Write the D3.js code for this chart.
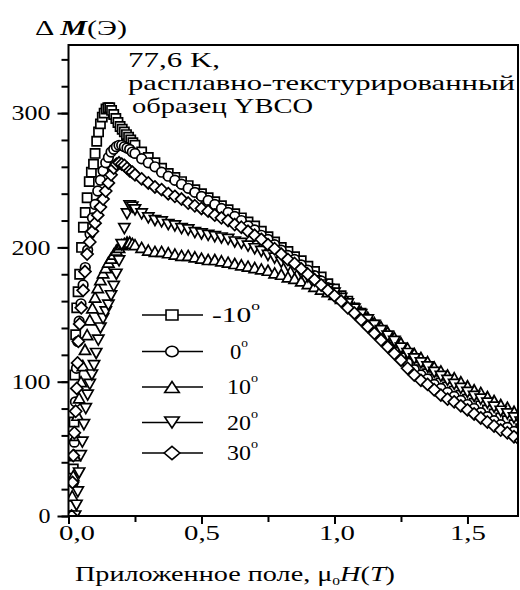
<!DOCTYPE html>
<html>
<head>
<meta charset="utf-8">
<script src="https://cdn.jsdelivr.net/npm/d3@7"></script>
<style>
  body { margin: 0; background: #fff; }
</style>
</head>
<body>
<div id="chart"></div>
<script>
const FONT = '"Liberation Serif"';

// series labels (angle, degrees)
const angles = ['-10', '0', '10', '20', '30'];

// rising branch, read per series: field (T) and dM (Oe)
const riseH_m10 = [0.015, 0.018, 0.021, 0.024, 0.027, 0.031, 0.036, 0.042, 0.049, 0.056, 0.063, 0.07, 0.078, 0.086, 0.094, 0.1, 0.106, 0.113, 0.12, 0.127, 0.134, 0.141, 0.148, 0.155, 0.162, 0.17, 0.178, 0.186, 0.194, 0.202, 0.21, 0.218, 0.226, 0.234, 0.242];
const riseM_m10 = [0, 35, 70, 105, 135, 155, 167, 180, 200, 215, 226, 237, 249, 256, 262, 270, 279, 286, 292, 297, 300, 303, 304, 304, 302, 299, 296, 293, 290, 288, 286, 284, 282, 280, 278];

const riseH_0 = [0.014, 0.018, 0.022, 0.026, 0.03, 0.035, 0.04, 0.047, 0.055, 0.063, 0.072, 0.081, 0.09, 0.1, 0.11, 0.12, 0.13, 0.14, 0.15, 0.16, 0.17, 0.18, 0.19, 0.2, 0.21, 0.22, 0.23, 0.24];
const riseM_0 = [0, 25, 55, 85, 110, 130, 145, 158, 172, 185, 198, 210, 222, 232, 242, 250, 257, 263, 267, 271, 273, 275, 276, 276, 275, 274, 273, 271];

const riseH_10 = [0.01, 0.014, 0.018, 0.023, 0.028, 0.034, 0.04, 0.047, 0.054, 0.062, 0.07, 0.08, 0.09, 0.1, 0.11, 0.12, 0.13, 0.14, 0.15, 0.16, 0.17, 0.18, 0.19, 0.2, 0.21, 0.22, 0.23, 0.24];
const riseM_10 = [0, 15, 30, 45, 60, 75, 88, 100, 112, 124, 135, 146, 155, 163, 170, 176, 181, 185, 189, 192, 195, 198, 200, 202, 203, 204, 204, 203];

const riseH_20 = [0.025, 0.03, 0.035, 0.04, 0.046, 0.052, 0.058, 0.065, 0.072, 0.08, 0.088, 0.096, 0.104, 0.112, 0.12, 0.13, 0.14, 0.15, 0.16, 0.17, 0.18, 0.19, 0.2, 0.21, 0.22, 0.23, 0.24];
const riseM_20 = [0, 8, 18, 32, 45, 55, 68, 80, 90, 98, 105, 112, 121, 131, 140, 147, 152, 157, 164, 171, 180, 190, 202, 214, 225, 231, 230];

const riseH_30 = [0.012, 0.015, 0.018, 0.022, 0.027, 0.031, 0.034, 0.037, 0.042, 0.048, 0.055, 0.062, 0.07, 0.08, 0.09, 0.1, 0.11, 0.12, 0.13, 0.14, 0.15, 0.16, 0.17, 0.18, 0.19, 0.2, 0.21, 0.22, 0.23, 0.24];
const riseM_30 = [0, 25, 45, 62, 78, 95, 114, 130, 143, 155, 168, 182, 195, 204, 212, 218, 224, 230, 236, 242, 248, 254, 259, 262, 263, 262, 261, 259, 257, 256];

// falling branch, shared field grid (T)
const tailH = [0.25, 0.275, 0.3, 0.325, 0.35, 0.375, 0.4, 0.425, 0.45, 0.475, 0.5, 0.525, 0.55, 0.575, 0.6, 0.625, 0.65, 0.675, 0.7, 0.725, 0.75, 0.775, 0.8, 0.825, 0.85, 0.875, 0.9, 0.925, 0.95, 0.975, 1.0, 1.025, 1.05, 1.075, 1.1, 1.125, 1.15, 1.175, 1.2, 1.225, 1.25, 1.275, 1.3, 1.325, 1.35, 1.375, 1.4, 1.425, 1.45, 1.475, 1.5, 1.525, 1.55, 1.575, 1.6, 1.625, 1.65, 1.675, 1.7];
const tailM_m10 = [276, 271, 267, 263, 259, 255, 252, 249, 246, 243, 240, 237, 234, 231, 228, 225, 222, 219, 216, 212, 208, 204, 200, 197, 193, 190, 186, 182, 178, 173, 169, 164, 160, 155, 151, 146, 142, 137, 133, 128, 123, 118, 113, 109, 106, 102, 99, 96, 93, 90, 87, 84, 82, 79, 76, 73, 71, 68, 65];
const tailM_0 = [270, 266, 263, 260, 256, 253, 250, 247, 244, 241, 238, 235, 232, 229, 226, 223, 220, 216, 213, 209, 206, 202, 198, 194, 191, 187, 183, 179, 175, 170, 166, 162, 157, 153, 148, 143, 139, 134, 129, 124, 119, 114, 109, 105, 102, 98, 95, 92, 89, 86, 83, 80, 77, 74, 71, 68, 66, 63, 60];
const tailM_10 = [202, 200, 198, 197, 197, 196, 195, 194, 194, 193, 192, 191, 191, 190, 189, 188, 187, 186, 185, 184, 183, 181, 180, 178, 177, 175, 173, 171, 169, 167, 165, 162, 159, 155, 152, 148, 144, 141, 137, 133, 129, 125, 121, 118, 115, 111, 108, 105, 103, 100, 97, 94, 92, 89, 86, 83, 81, 78, 75];
const tailM_20 = [228, 225, 222, 220, 219, 217, 216, 214, 213, 211, 210, 209, 208, 207, 206, 204, 203, 201, 199, 197, 194, 192, 189, 186, 184, 181, 178, 175, 172, 169, 166, 162, 158, 154, 150, 146, 142, 138, 134, 130, 125, 121, 117, 114, 111, 107, 104, 101, 98, 95, 92, 89, 87, 84, 81, 78, 76, 73, 70];
const tailM_30 = [254, 251, 248, 245, 243, 240, 238, 236, 233, 231, 229, 227, 224, 222, 220, 217, 215, 212, 209, 206, 202, 199, 195, 191, 188, 184, 180, 176, 172, 168, 164, 160, 155, 151, 146, 141, 136, 131, 126, 121, 116, 110, 105, 101, 98, 94, 90, 87, 85, 82, 79, 76, 73, 70, 67, 64, 62, 59, 56];

const xTicks = [0, 0.5, 1.0, 1.5];
const yTicks = [0, 100, 200, 300];

const series = [
  { angle: angles[0], sym: 'square',  H: riseH_m10.concat(tailH), M: riseM_m10.concat(tailM_m10) },
  { angle: angles[1], sym: 'circle',  H: riseH_0.concat(tailH),   M: riseM_0.concat(tailM_0) },
  { angle: angles[2], sym: 'triUp',   H: riseH_10.concat(tailH),  M: riseM_10.concat(tailM_10) },
  { angle: angles[3], sym: 'triDown', H: riseH_20.concat(tailH),  M: riseM_20.concat(tailM_20) },
  { angle: angles[4], sym: 'diamond', H: riseH_30.concat(tailH),  M: riseM_30.concat(tailM_30) }
];

function symPath(sym, kx, ky) {
  kx = kx || 1; ky = ky || kx;
  if (sym === 'square')  { const a = 4.6 * kx, b = 4.6 * ky; return `M${-a},${-b}H${a}V${b}H${-a}Z`; }
  if (sym === 'circle')  { const a = 4.8 * kx, b = 4.8 * ky; return `M${-a},0A${a},${b} 0 1,0 ${a},0A${a},${b} 0 1,0 ${-a},0Z`; }
  if (sym === 'triUp')   { const w = 5.6 * kx, h = 5 * ky; return `M0,${-h}L${w},${h}L${-w},${h}Z`; }
  if (sym === 'triDown') { const w = 5.6 * kx, h = 5 * ky; return `M0,${h}L${w},${-h}L${-w},${-h}Z`; }
  const a = 6 * kx, b = 6 * ky; return `M0,${-b}L${a},0L0,${b}L${-a},0Z`;
}

const W = 520, H = 590;
const x = d3.scaleLinear().domain([0, 1.69]).range([68.5, 518]);
const y = d3.scaleLinear().domain([0, 350.7]).range([516, 45]);

const svg = d3.select('#chart').append('svg')
  .attr('width', W).attr('height', H);

svg.append('clipPath').attr('id', 'plotclip')
  .append('rect')
  .attr('x', x(0)).attr('y', y(350.7))
  .attr('width', x(1.69) - x(0)).attr('height', y(0) - y(350.7));

// markers
const plot = svg.append('g').attr('clip-path', 'url(#plotclip)');
series.forEach(s => {
  const pts = s.H.map((h, i) => [h, s.M[i]]);
  plot.append('g').selectAll('path')
    .data(pts)
    .join('path')
    .attr('transform', d => `translate(${x(d[0])},${y(d[1])})`)
    .attr('d', symPath(s.sym))
    .attr('fill', '#fff')
    .attr('stroke', '#000')
    .attr('stroke-width', 1.7);
});

// axes
const yMinor = svg.append('g').attr('transform', `translate(${x(0)},0)`)
  .call(d3.axisLeft(y).tickValues(d3.range(0, 341, 20)).tickSize(7).tickFormat(''));
const yAxis = svg.append('g').attr('transform', `translate(${x(0)},0)`)
  .call(d3.axisLeft(y).tickValues(yTicks).tickSize(11).tickPadding(7).tickFormat(d3.format('d')));
const xMinor = svg.append('g').attr('transform', `translate(0,${y(0)})`)
  .call(d3.axisBottom(x).tickValues([0.25, 0.75, 1.25]).tickSize(6).tickFormat(''));
const xAxis = svg.append('g').attr('transform', `translate(0,${y(0)})`)
  .call(d3.axisBottom(x).tickValues(xTicks).tickSize(8).tickPadding(1)
    .tickFormat(d => d.toFixed(1).replace('.', ',')));

[yMinor, yAxis, xMinor, xAxis].forEach(g => {
  g.select('.domain').remove();
  g.selectAll('line').attr('stroke', '#000').attr('stroke-width', 2);
  g.selectAll('text').style('font-family', FONT).style('font-size', '21px').attr('fill', '#000');
});
yAxis.selectAll('text')
  .attr('textLength', d => d === 0 ? 12 : 39).attr('lengthAdjust', 'spacingAndGlyphs');
xAxis.selectAll('text')
  .attr('dx', d => d === 0 ? 8 : (d === 1 ? 2 : 0))
  .attr('textLength', 36).attr('lengthAdjust', 'spacingAndGlyphs');

svg.append('rect')
  .attr('x', x(0)).attr('y', y(350.7))
  .attr('width', x(1.69) - x(0)).attr('height', y(0) - y(350.7))
  .attr('fill', 'none').attr('stroke', '#000').attr('stroke-width', 2);

// y label
const yl = svg.append('text').attr('x', 35).attr('y', 35)
  .style('font-family', FONT).style('font-size', '20px')
  .attr('textLength', 92).attr('lengthAdjust', 'spacingAndGlyphs');
yl.append('tspan').text('Δ ');
yl.append('tspan').style('font-style', 'italic').style('font-weight', 'bold').text('M');
yl.append('tspan').text('(Э)');

// x label
const xl = svg.append('text').attr('x', 75).attr('y', 581)
  .style('font-family', FONT).style('font-size', '20px')
  .attr('textLength', 320).attr('lengthAdjust', 'spacingAndGlyphs');
xl.append('tspan').text('Приложенное поле, μ');
xl.append('tspan').attr('dy', 4).style('font-size', '11px').text('0');
xl.append('tspan').attr('dy', -4).style('font-style', 'italic').text('H');
xl.append('tspan').text('(');
xl.append('tspan').style('font-style', 'italic').text('T');
xl.append('tspan').text(')');

// annotation
const note = ['77,6 K,', 'расплавно-текстурированный', 'образец YBCO'];
const noteLen = [92, 387, 181];
svg.append('g').selectAll('text')
  .data(note)
  .join('text')
  .attr('x', (d, i) => i === 2 ? 132 : 128)
  .attr('y', (d, i) => 67 + i * 23)
  .style('font-family', FONT)
  .style('font-size', '21px')
  .attr('textLength', (d, i) => noteLen[i])
  .attr('lengthAdjust', 'spacingAndGlyphs')
  .text(d => d);

// legend
const legY = [315, 351.5, 387, 422.5, 453];
const leg = svg.append('g').selectAll('g')
  .data(series)
  .join('g')
  .attr('transform', (d, i) => `translate(0,${legY[i]})`);
leg.append('line')
  .attr('x1', 142).attr('x2', 203).attr('y1', 0).attr('y2', 0)
  .attr('stroke', '#000').attr('stroke-width', 1.4);
leg.append('path')
  .attr('transform', 'translate(172,0)')
  .attr('d', d => symPath(d.sym, 1.3, 1.1))
  .attr('fill', '#fff').attr('stroke', '#000').attr('stroke-width', 1.6);
const lt = leg.append('text')
  .attr('x', d => d.angle === '-10' ? 212 : (d.angle === '0' ? 230 : 227))
  .attr('y', 7)
  .style('font-family', FONT)
  .style('font-size', '22px')
  .attr('textLength', d => d.angle === '-10' ? 48 : (d.angle === '0' ? 18 : 31))
  .attr('lengthAdjust', 'spacingAndGlyphs');
lt.append('tspan').text(d => d.angle);
lt.append('tspan').attr('dy', -12).style('font-size', '13px').text('o');
</script>
</body>
</html>
